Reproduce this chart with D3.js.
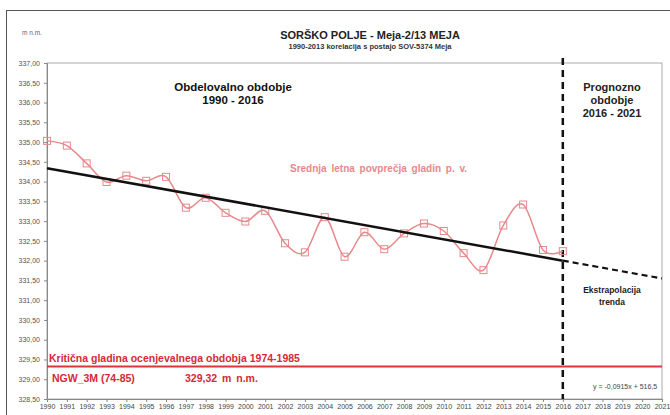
<!DOCTYPE html>
<html><head><meta charset="utf-8">
<script src="https://cdn.jsdelivr.net/npm/d3@7"></script>
<style>
html,body{margin:0;padding:0;background:#fff;}
svg{display:block;font-family:"Liberation Sans",Arial,sans-serif;}
</style></head>
<body>
<svg id="c" width="670" height="415"></svg>
<script>
const years = [1990,1991,1992,1993,1994,1995,1996,1997,1998,1999,2000,2001,2002,2003,2004,2005,2006,2007,2008,2009,2010,2011,2012,2013,2014,2015,2016];
const levels = [335.03,334.91,334.46,333.99,334.15,334.02,334.12,333.34,333.59,333.21,332.99,333.26,332.44,332.21,333.10,332.10,332.72,332.29,332.69,332.94,332.75,332.19,331.76,332.89,333.42,332.27,332.24];
const trendYears = [1990,2016];
const trendValues = [334.34,332.00];
const extrapYears = [2016,2021];
const extrapValues = [332.00,331.55];
const criticalLevel = 329.32;
const splitYear = 2016;
const xTicks = d3.range(1990,2022);
const yTicks = [328.5,329,329.5,330,330.5,331,331.5,332,332.5,333,333.5,334,334.5,335,335.5,336,336.5,337];

const svg = d3.select("#c");
const x = d3.scaleLinear().domain([1990,2021]).range([47,662]);
const y = d3.scaleLinear().domain([328.5,337]).range([399,63]);

// outer frame
svg.append("rect").attr("x",6.5).attr("y",10.5).attr("width",700).attr("height",440)
  .attr("fill","none").attr("stroke","#555").attr("stroke-width",1);

// plot box
svg.append("rect").attr("x",x(1990)).attr("y",y(337)).attr("width",x(2021)-x(1990)).attr("height",y(328.5)-y(337))
  .attr("fill","none").attr("stroke","#aaa").attr("stroke-width",1);

// axes
const fmt = v => d3.format(".2f")(v).replace(".",",");
const yAxis = svg.append("g").attr("transform",`translate(${x(1990)},0)`)
  .call(d3.axisLeft(y).tickValues(yTicks).tickSize(3).tickPadding(4).tickFormat(fmt));
yAxis.selectAll("text").attr("font-size","7px").attr("fill","#555");
yAxis.selectAll("line,path").attr("stroke","#888");

const xAxis = svg.append("g").attr("transform",`translate(0,${y(328.5)})`)
  .call(d3.axisBottom(x).tickValues(xTicks).tickSize(3).tickPadding(2).tickFormat(d3.format("d")));
xAxis.selectAll("text").attr("font-size","7px").attr("fill","#444");
xAxis.selectAll("line,path").attr("stroke","#888");

// titles
svg.append("text").attr("x",22).attr("y",35).attr("font-size","6.5px").attr("fill","#666").text("m n.m.");
svg.append("text").attr("x",370).attr("y",39).attr("text-anchor","middle").attr("font-size","11px").attr("font-weight","bold").attr("fill","#222").text("SORŠKO POLJE - Meja-2/13  MEJA");
svg.append("text").attr("x",370).attr("y",49).attr("text-anchor","middle").attr("font-size","7.5px").attr("font-weight","bold").attr("fill","#333").text("1990-2013 korelacija s postajo  SOV-5374 Meja");

// critical level line
svg.append("line").attr("x1",x(1990)).attr("x2",x(2021)).attr("y1",y(criticalLevel)).attr("y2",y(criticalLevel))
  .attr("stroke","#dc3540").attr("stroke-width",2);
svg.append("text").attr("x",49).attr("y",362).attr("font-size","10.5px").attr("font-weight","bold").attr("fill","#d42a35")
  .text("Kritična gladina ocenjevalnega obdobja 1974-1985");
svg.append("text").attr("x",52).attr("y",382).attr("font-size","10.5px").attr("font-weight","bold").attr("fill","#d42a35")
  .text("NGW_3M  (74-85)");
svg.append("text").attr("x",185).attr("y",382).attr("font-size","10.5px").attr("font-weight","bold").attr("fill","#d42a35")
  .attr("word-spacing","2px").text("329,32 m n.m.");

// vertical split line
svg.append("line").attr("x1",x(splitYear)).attr("x2",x(splitYear)).attr("y1",58).attr("y2",y(328.5))
  .attr("stroke","#111").attr("stroke-width",2.5).attr("stroke-dasharray","7,5");

// series
const line = d3.line().x((d,i)=>x(years[i])).y(d=>y(d)).curve(d3.curveCatmullRom.alpha(0));
svg.append("path").datum(levels).attr("d",line).attr("fill","none").attr("stroke","#e6898b").attr("stroke-width",1.5);
svg.selectAll("rect.m").data(levels).enter().append("rect").attr("class","m")
  .attr("x",(d,i)=>x(years[i])-3.5).attr("y",d=>y(d)-3.5).attr("width",7).attr("height",7)
  .attr("fill","none").attr("stroke","#e6898b").attr("stroke-width",1);

// trend
const tl = d3.line().x((d,i)=>x(trendYears[i])).y(d=>y(d));
svg.append("path").datum(trendValues).attr("d",tl).attr("fill","none").attr("stroke","#111").attr("stroke-width",2.5);
const el = d3.line().x((d,i)=>x(extrapYears[i])).y(d=>y(d));
svg.append("path").datum(extrapValues).attr("d",el).attr("fill","none").attr("stroke","#111").attr("stroke-width",2.2).attr("stroke-dasharray","6,4");

// annotations
const t1 = svg.append("text").attr("text-anchor","middle").attr("font-size","11.5px").attr("font-weight","bold").attr("fill","#111");
t1.append("tspan").attr("x",233).attr("y",91).text("Obdelovalno obdobje");
t1.append("tspan").attr("x",233).attr("y",104).text("1990 - 2016");
const t2 = svg.append("text").attr("text-anchor","middle").attr("font-size","11px").attr("font-weight","bold").attr("fill","#222");
t2.append("tspan").attr("x",612).attr("y",91).text("Prognozno");
t2.append("tspan").attr("x",612).attr("y",104).text("obdobje");
t2.append("tspan").attr("x",612).attr("y",117).text("2016 - 2021");
svg.append("text").attr("x",290).attr("y",172).attr("font-size","10px").attr("font-weight","bold").attr("fill","#e6898b")
  .attr("word-spacing","2px").text("Srednja letna povprečja gladin p. v.");
const t3 = svg.append("text").attr("text-anchor","middle").attr("font-size","8.5px").attr("font-weight","bold").attr("fill","#222");
t3.append("tspan").attr("x",612).attr("y",293).text("Ekstrapolacija");
t3.append("tspan").attr("x",612).attr("y",305).text("trenda");
svg.append("text").attr("x",593).attr("y",389).attr("font-size","7px").attr("fill","#444").text("y = -0,0915x + 516,5");
</script>
</body></html>
